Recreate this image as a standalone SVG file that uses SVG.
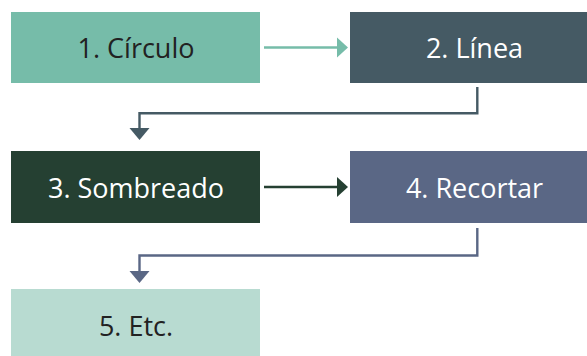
<svg xmlns="http://www.w3.org/2000/svg" width="587" height="356" viewBox="0 0 587 356">
<style>
.lbl{font-family:"Open Sans","Noto Sans",sans-serif;font-size:27px;text-anchor:middle}
.dk{fill:#222222}
.lt{fill:#ffffff}
.ln{fill:none;stroke-width:2.4}
</style>
<rect width="587" height="356" fill="#ffffff"/>
<g id="connectors">
<g id="c1-2"><line class="ln" x1="264" y1="47.5" x2="338" y2="47.5" stroke="#76bca9"/><polygon points="337,37.5 348,47.5 337,57.5" fill="#76bca9"/></g>
<g id="c2-3"><polyline class="ln" points="477.3,87 477.3,113.3 139.5,113.3 139.5,129" stroke="#455a64"/><polygon points="129.5,128 149.5,128 139.5,140" fill="#455a64"/></g>
<g id="c3-4"><line class="ln" x1="264" y1="187" x2="338" y2="187" stroke="#254032"/><polygon points="337,177 348,187 337,197" fill="#254032"/></g>
<g id="c4-5"><polyline class="ln" points="477.3,228 477.3,255.5 139.5,255.5 139.5,272" stroke="#5a6785"/><polygon points="129.5,271 149.5,271 139.5,283" fill="#5a6785"/></g>
</g>
<g id="n1"><rect x="11" y="12" width="249" height="71" fill="#76bca9"/><text class="lbl dk" x="136" y="57.5">1. Círculo</text></g>
<g id="n2"><rect x="350" y="12" width="249" height="71" fill="#455a64"/><text class="lbl lt" x="474.5" y="57.5">2. Línea</text></g>
<g id="n3"><rect x="11" y="151" width="249" height="72" fill="#254032"/><text class="lbl lt" x="136" y="197.5">3. Sombreado</text></g>
<g id="n4"><rect x="350" y="151" width="249" height="72" fill="#5a6785"/><text class="lbl lt" x="474.5" y="197.5">4. Recortar</text></g>
<g id="n5"><rect x="11" y="289" width="249" height="72" fill="#b8dbd1"/><text class="lbl dk" x="136" y="335.5">5. Etc.</text></g>
</svg>
